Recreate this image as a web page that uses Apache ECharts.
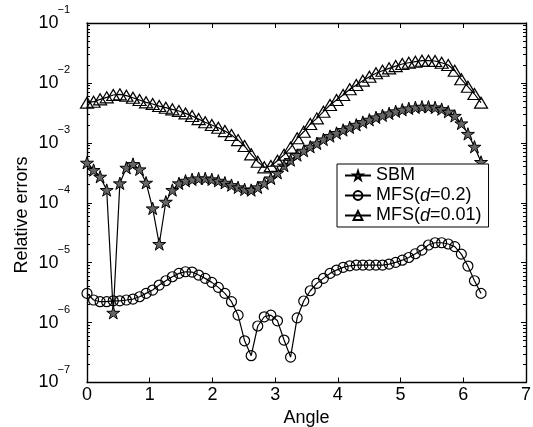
<!DOCTYPE html>
<html>
<head>
<meta charset="utf-8">
<script src="https://cdn.jsdelivr.net/npm/echarts@6/dist/echarts.min.js"></script>
<style>
html,body{margin:0;padding:0;background:#fff;}
#c{width:533px;height:427px;}
</style>
</head>
<body>
<div id="c"></div>
<script>
// Angles (radians), 6-degree steps from 0 to 2*pi
const angles = [0,0.105,0.209,0.314,0.419,0.524,0.628,0.733,0.838,0.942,1.047,1.152,1.257,1.361,1.466,1.571,1.676,1.780,1.885,1.990,2.094,2.199,2.304,2.409,2.513,2.618,2.723,2.827,2.932,3.037,3.142,3.246,3.351,3.456,3.560,3.665,3.770,3.875,3.979,4.084,4.189,4.294,4.398,4.503,4.608,4.712,4.817,4.922,5.027,5.131,5.236,5.341,5.445,5.550,5.655,5.760,5.864,5.969,6.074,6.178,6.283];

const sbm = [4.66e-4,3.52e-4,2.72e-4,1.63e-4,1.46e-6,2.11e-4,3.84e-4,4.43e-4,3.61e-4,2.16e-4,
 8.05e-5,2.05e-5,1.04e-4,1.63e-4,2.11e-4,2.33e-4,2.46e-4,2.55e-4,2.55e-4,2.46e-4,
 2.33e-4,2.16e-4,1.97e-4,1.81e-4,1.67e-4,1.63e-4,1.81e-4,2.11e-4,2.55e-4,3.17e-4,
 4.17e-4,5.16e-4,6.25e-4,7.38e-4,8.61e-4,9.79e-4,1.14e-3,1.30e-3,1.46e-3,1.64e-3,
 1.81e-3,2.00e-3,2.22e-3,2.43e-3,2.66e-3,2.88e-3,3.10e-3,3.36e-3,3.57e-3,3.76e-3,
 3.91e-3,4.01e-3,4.01e-3,3.91e-3,3.66e-3,3.31e-3,2.82e-3,2.11e-3,1.41e-3,8.61e-4,4.79e-4];

const mfs02 = [3.07e-6,2.38e-6,2.23e-6,2.23e-6,2.31e-6,2.31e-6,2.38e-6,2.47e-6,2.70e-6,3.07e-6,
 3.49e-6,4.23e-6,4.99e-6,5.82e-6,6.62e-6,7.05e-6,6.97e-6,6.21e-6,5.47e-6,4.69e-6,
 3.87e-6,3.07e-6,2.23e-6,1.33e-6,4.97e-7,2.80e-7,8.77e-7,1.25e-6,1.33e-6,1.07e-6,
 5.11e-7,2.65e-7,1.20e-6,2.29e-6,3.40e-6,4.51e-6,5.47e-6,6.62e-6,7.52e-6,8.34e-6,
 8.87e-6,9.12e-6,9.12e-6,9.12e-6,9.12e-6,9.12e-6,9.48e-6,1.01e-5,1.10e-5,1.22e-5,
 1.41e-5,1.62e-5,1.97e-5,2.15e-5,2.15e-5,2.05e-5,1.85e-5,1.39e-5,8.77e-6,4.99e-6,3.07e-6];

const mfs001 = [4.68e-3,4.86e-3,5.32e-3,5.74e-3,6.28e-3,6.44e-3,6.12e-3,5.66e-3,5.19e-3,4.74e-3,
 4.45e-3,4.11e-3,3.86e-3,3.62e-3,3.40e-3,3.10e-3,2.80e-3,2.49e-3,2.20e-3,1.98e-3,
 1.79e-3,1.57e-3,1.35e-3,1.11e-3,8.85e-4,6.43e-4,4.84e-4,3.90e-4,4.10e-4,5.04e-4,
 6.31e-4,8.32e-4,1.19e-3,1.53e-3,2.06e-3,2.56e-3,3.31e-3,4.28e-3,5.19e-3,6.28e-3,
 7.82e-3,9.23e-3,1.09e-2,1.27e-2,1.45e-2,1.60e-2,1.75e-2,1.91e-2,2.07e-2,2.17e-2,
 2.26e-2,2.35e-2,2.35e-2,2.32e-2,2.17e-2,1.99e-2,1.60e-2,1.15e-2,8.65e-3,6.53e-3,4.68e-3];

const seriesNames = ['SBM', 'MFS(d=0.2)', 'MFS(d=0.01)'];
const xTicks = [0,1,2,3,4,5,6,7];
const yExponents = [-7,-6,-5,-4,-3,-2,-1];

const FONT = 'Liberation Sans, Arial, Helvetica, sans-serif';
const minorTicks = [];
for (let n = yExponents[0]; n < yExponents[yExponents.length-1]; n++) {
  for (let k = 2; k <= 9; k++) minorTicks.push(n + Math.log10(k));
}
const starPath = 'path://M100,0L122.45,69.1L195.1,69.1L136.3,111.8L158.8,180.9L100,138.2L41.2,180.9L63.7,111.8L4.9,69.1L77.55,69.1Z';

const yMin = yExponents[0], yMax = yExponents[yExponents.length-1];
function decoAxis(extra) {
  return Object.assign({
    type: 'value', min: yMin, max: yMax, interval: 1,
    splitLine: {show: false},
    axisLine: {show: false},
    axisTick: {show: false},
    axisLabel: {show: false}
  }, extra);
}
const axisLineStyle = {color: '#000', width: 1.4};

const chart = echarts.init(document.getElementById('c'), null, {renderer: 'canvas'});
const option = {
  animation: false,
  backgroundColor: '#fff',
  textStyle: {fontFamily: FONT, color: '#000'},
  grid: {left: 87, right: 7, top: 23, bottom: 44.5, containLabel: false, outerBoundsMode: 'none'},
  xAxis: [
    {
      type: 'value', min: xTicks[0], max: xTicks[xTicks.length-1], interval: 1, position: 'bottom',
      name: 'Angle', nameLocation: 'middle', nameGap: 22,
      nameTextStyle: {fontSize: 18, fontFamily: FONT, color: '#000'},
      axisLine: {show: true, lineStyle: axisLineStyle},
      axisTick: {show: true, inside: true, length: 5, lineStyle: {color: '#000', width: 1}},
      axisLabel: {show: true, fontSize: 18, fontFamily: FONT, color: '#000', margin: 4},
      splitLine: {show: false}
    },
    {
      type: 'value', min: xTicks[0], max: xTicks[xTicks.length-1], interval: 1, position: 'top',
      axisLine: {show: true, lineStyle: axisLineStyle},
      axisTick: {show: true, inside: true, length: 5, lineStyle: {color: '#000', width: 1}},
      axisLabel: {show: false},
      splitLine: {show: false}
    }
  ],
  yAxis: [
    {type: 'log', logBase: 10, min: Math.pow(10, yMin), max: Math.pow(10, yMax), show: false},
    decoAxis({position: 'left',
      axisLine: {show: true, lineStyle: axisLineStyle},
      axisTick: {show: true, inside: true, length: 5, lineStyle: {color: '#000', width: 1}},
      axisLabel: {show: true, fontSize: 18, fontFamily: FONT, color: '#000', margin: 28.5,
        formatter: function () { return '10'; }}
    }),
    decoAxis({position: 'left',
      axisLabel: {show: true, fontSize: 11, fontFamily: FONT, color: '#000', margin: 17,
        verticalAlign: 'bottom', lineHeight: 26,
        formatter: function (v) { return '\u2212' + Math.abs(Math.round(v)); }}
    }),
    decoAxis({position: 'left',
      axisTick: {show: true, inside: true, length: 3, customValues: minorTicks, lineStyle: {color: '#000', width: 1}}
    }),
    decoAxis({position: 'right',
      axisLine: {show: true, lineStyle: axisLineStyle},
      axisTick: {show: true, inside: true, length: 5, lineStyle: {color: '#000', width: 1}}
    }),
    decoAxis({position: 'right',
      axisTick: {show: true, inside: true, length: 3, customValues: minorTicks, lineStyle: {color: '#000', width: 1}}
    })
  ],
  legend: {
    show: true,
    orient: 'vertical',
    left: 337, top: 164,
    padding: [2, 7, 2, 7],
    itemGap: 1,
    itemWidth: 26, itemHeight: 11,
    backgroundColor: '#fff',
    borderColor: '#000', borderWidth: 1, borderRadius: 0,
    selectedMode: false,
    textStyle: {fontSize: 18, fontFamily: FONT, color: '#000', lineHeight: 19,
      rich: {i: {fontSize: 18, fontFamily: FONT, fontStyle: 'italic', color: '#000', lineHeight: 19}}},
    formatter: function (name) { return name.replace('d=', '{i|d}='); },
    data: seriesNames
  },
  graphic: [{
    type: 'text', x: 22, y: 215, rotation: Math.PI / 2,
    style: {text: 'Relative errors', font: '18px ' + FONT, fill: '#000', textAlign: 'center', textVerticalAlign: 'middle'}
  }],
  series: [
    {
      name: seriesNames[0], type: 'line', xAxisIndex: 0, yAxisIndex: 0,
      data: angles.map((a, i) => [a, sbm[i]]),
      symbol: starPath, symbolSize: 13, symbolKeepAspect: true,
      lineStyle: {color: '#000', width: 1.2},
      itemStyle: {color: '#666', borderColor: '#000', borderWidth: 1},
      emphasis: {disabled: true}
    },
    {
      name: seriesNames[1], type: 'line', xAxisIndex: 0, yAxisIndex: 0,
      data: angles.map((a, i) => [a, mfs02[i]]),
      symbol: 'circle', symbolSize: 10,
      lineStyle: {color: '#000', width: 1.2},
      itemStyle: {color: 'rgba(255,255,255,0)', borderColor: '#000', borderWidth: 1.2},
      emphasis: {disabled: true}
    },
    {
      name: seriesNames[2], type: 'line', xAxisIndex: 0, yAxisIndex: 0,
      data: angles.map((a, i) => [a, mfs001[i]]),
      symbol: 'triangle', symbolSize: [13, 11],
      lineStyle: {color: '#000', width: 1.2},
      itemStyle: {color: 'rgba(255,255,255,0)', borderColor: '#000', borderWidth: 1.2},
      emphasis: {disabled: true}
    }
  ]
};
chart.setOption(option);
</script>
</body>
</html>
